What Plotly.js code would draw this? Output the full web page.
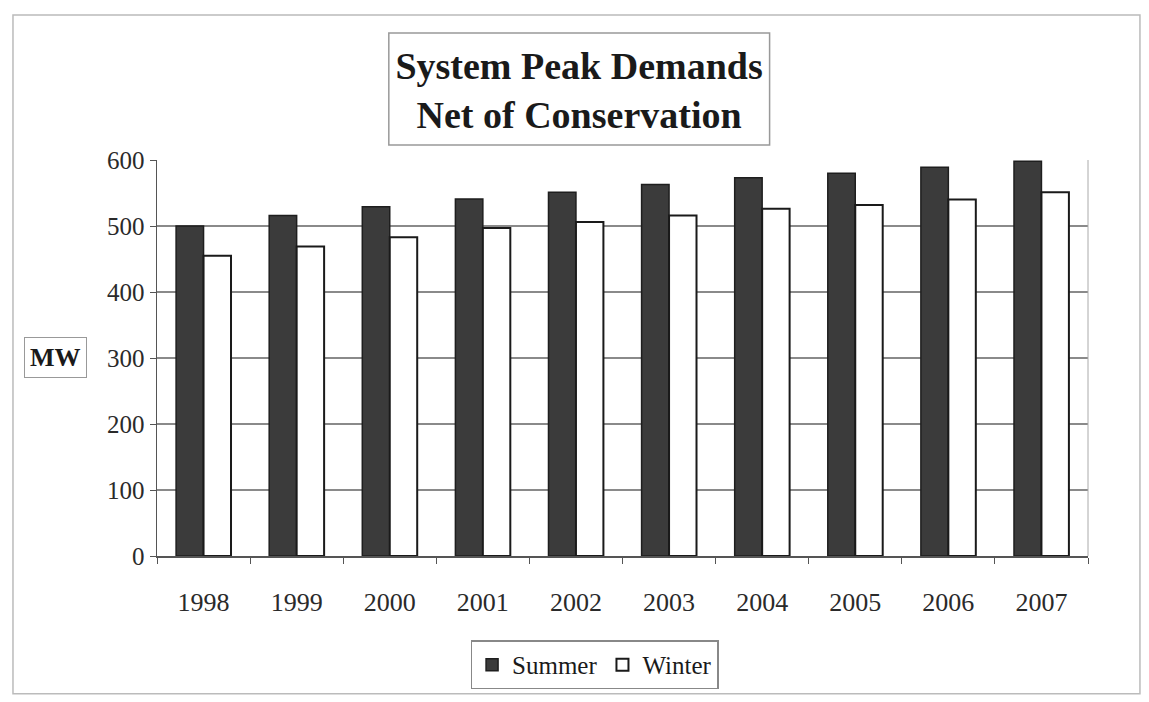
<!DOCTYPE html>
<html>
<head>
<meta charset="utf-8">
<script src="https://cdn.plot.ly/plotly-3.0.1.min.js"></script>
<style>html,body{margin:0;padding:0;background:#fff;}#chart{width:1149px;height:702px;}</style>
</head>
<body>
<div id="chart"></div>
<script>
const years = ['1998','1999','2000','2001','2002','2003','2004','2005','2006','2007'];
const summer = [500, 516, 529, 541, 551, 563, 573, 580, 589, 598];
const winter = [455, 469, 483, 497, 506, 516, 526, 532, 540, 551];
const yTicks = [0, 100, 200, 300, 400, 500, 600];
const seriesNames = ['Summer', 'Winter'];

const serif = 'Liberation Serif, Times New Roman, serif';

const traces = [
  {type:'bar', name:seriesNames[0], x:years, y:summer,
   marker:{color:'#3b3b3b', line:{color:'#1e1e1e', width:1.5}}},
  {type:'bar', name:seriesNames[1], x:years, y:winter,
   marker:{color:'#ffffff', line:{color:'#1a1a1a', width:2}}}
];

const layout = {
  width:1149, height:702,
  margin:{l:157, r:61, t:160, b:143},
  paper_bgcolor:'#ffffff', plot_bgcolor:'#ffffff',
  barmode:'group', bargap:0.41, bargroupgap:0,
  title:{text:'System Peak Demands<br>Net of Conservation',
         x:0.504, xanchor:'center', y:0.888, yanchor:'middle',
         font:{family:serif, size:38, color:'#1a1a1a', weight:'bold'}},
  xaxis:{type:'category', tickson:'boundaries', ticks:'outside', ticklen:6,
         tickcolor:'#555', showline:true, linecolor:'#555', linewidth:1.5,
         tickfont:{family:serif, size:26, color:'#2a2a2a'}, ticklabelstandoff:22},
  yaxis:{range:[0,600], tickvals:yTicks, ticks:'outside', ticklen:6, tickcolor:'#555',
         showline:true, linecolor:'#555', linewidth:1.5,
         showgrid:true, gridcolor:'#8a8a8a', gridwidth:1.5, zeroline:false,
         tickfont:{family:serif, size:25, color:'#2a2a2a'}},
  legend:{orientation:'h', x:0.47, xanchor:'center', y:-0.275, yanchor:'middle',
          bordercolor:'#888', borderwidth:1.5, bgcolor:'#fff',
          font:{family:serif, size:25, color:'#1a1a1a'}, itemwidth:30},
  annotations:[
    {text:'<b>MW</b>', xref:'paper', yref:'paper', x:-0.1085, y:0.502, xanchor:'center', yanchor:'middle',
     showarrow:false, font:{family:serif, size:26, color:'#1a1a1a'},
     bordercolor:'#999', borderwidth:1, borderpad:5, bgcolor:'#fff'}
  ],
  shapes:[
    {type:'rect', xref:'paper', yref:'paper', x0:0.249, x1:0.658, y0:1.0376, y1:1.3208,
     line:{color:'#999', width:1.5}},
    {type:'rect', xref:'paper', yref:'paper', x0:-0.1547, x1:1.0558, y0:-0.348, y1:1.366,
     line:{color:'#bbb', width:1.5}},
    {type:'line', xref:'paper', yref:'paper', x0:1, x1:1, y0:0, y1:1,
     line:{color:'#aaa', width:1}}
  ],
  showlegend:true
};

Plotly.newPlot('chart', traces, layout, {displayModeBar:false, staticPlot:true});
</script>
</body>
</html>
